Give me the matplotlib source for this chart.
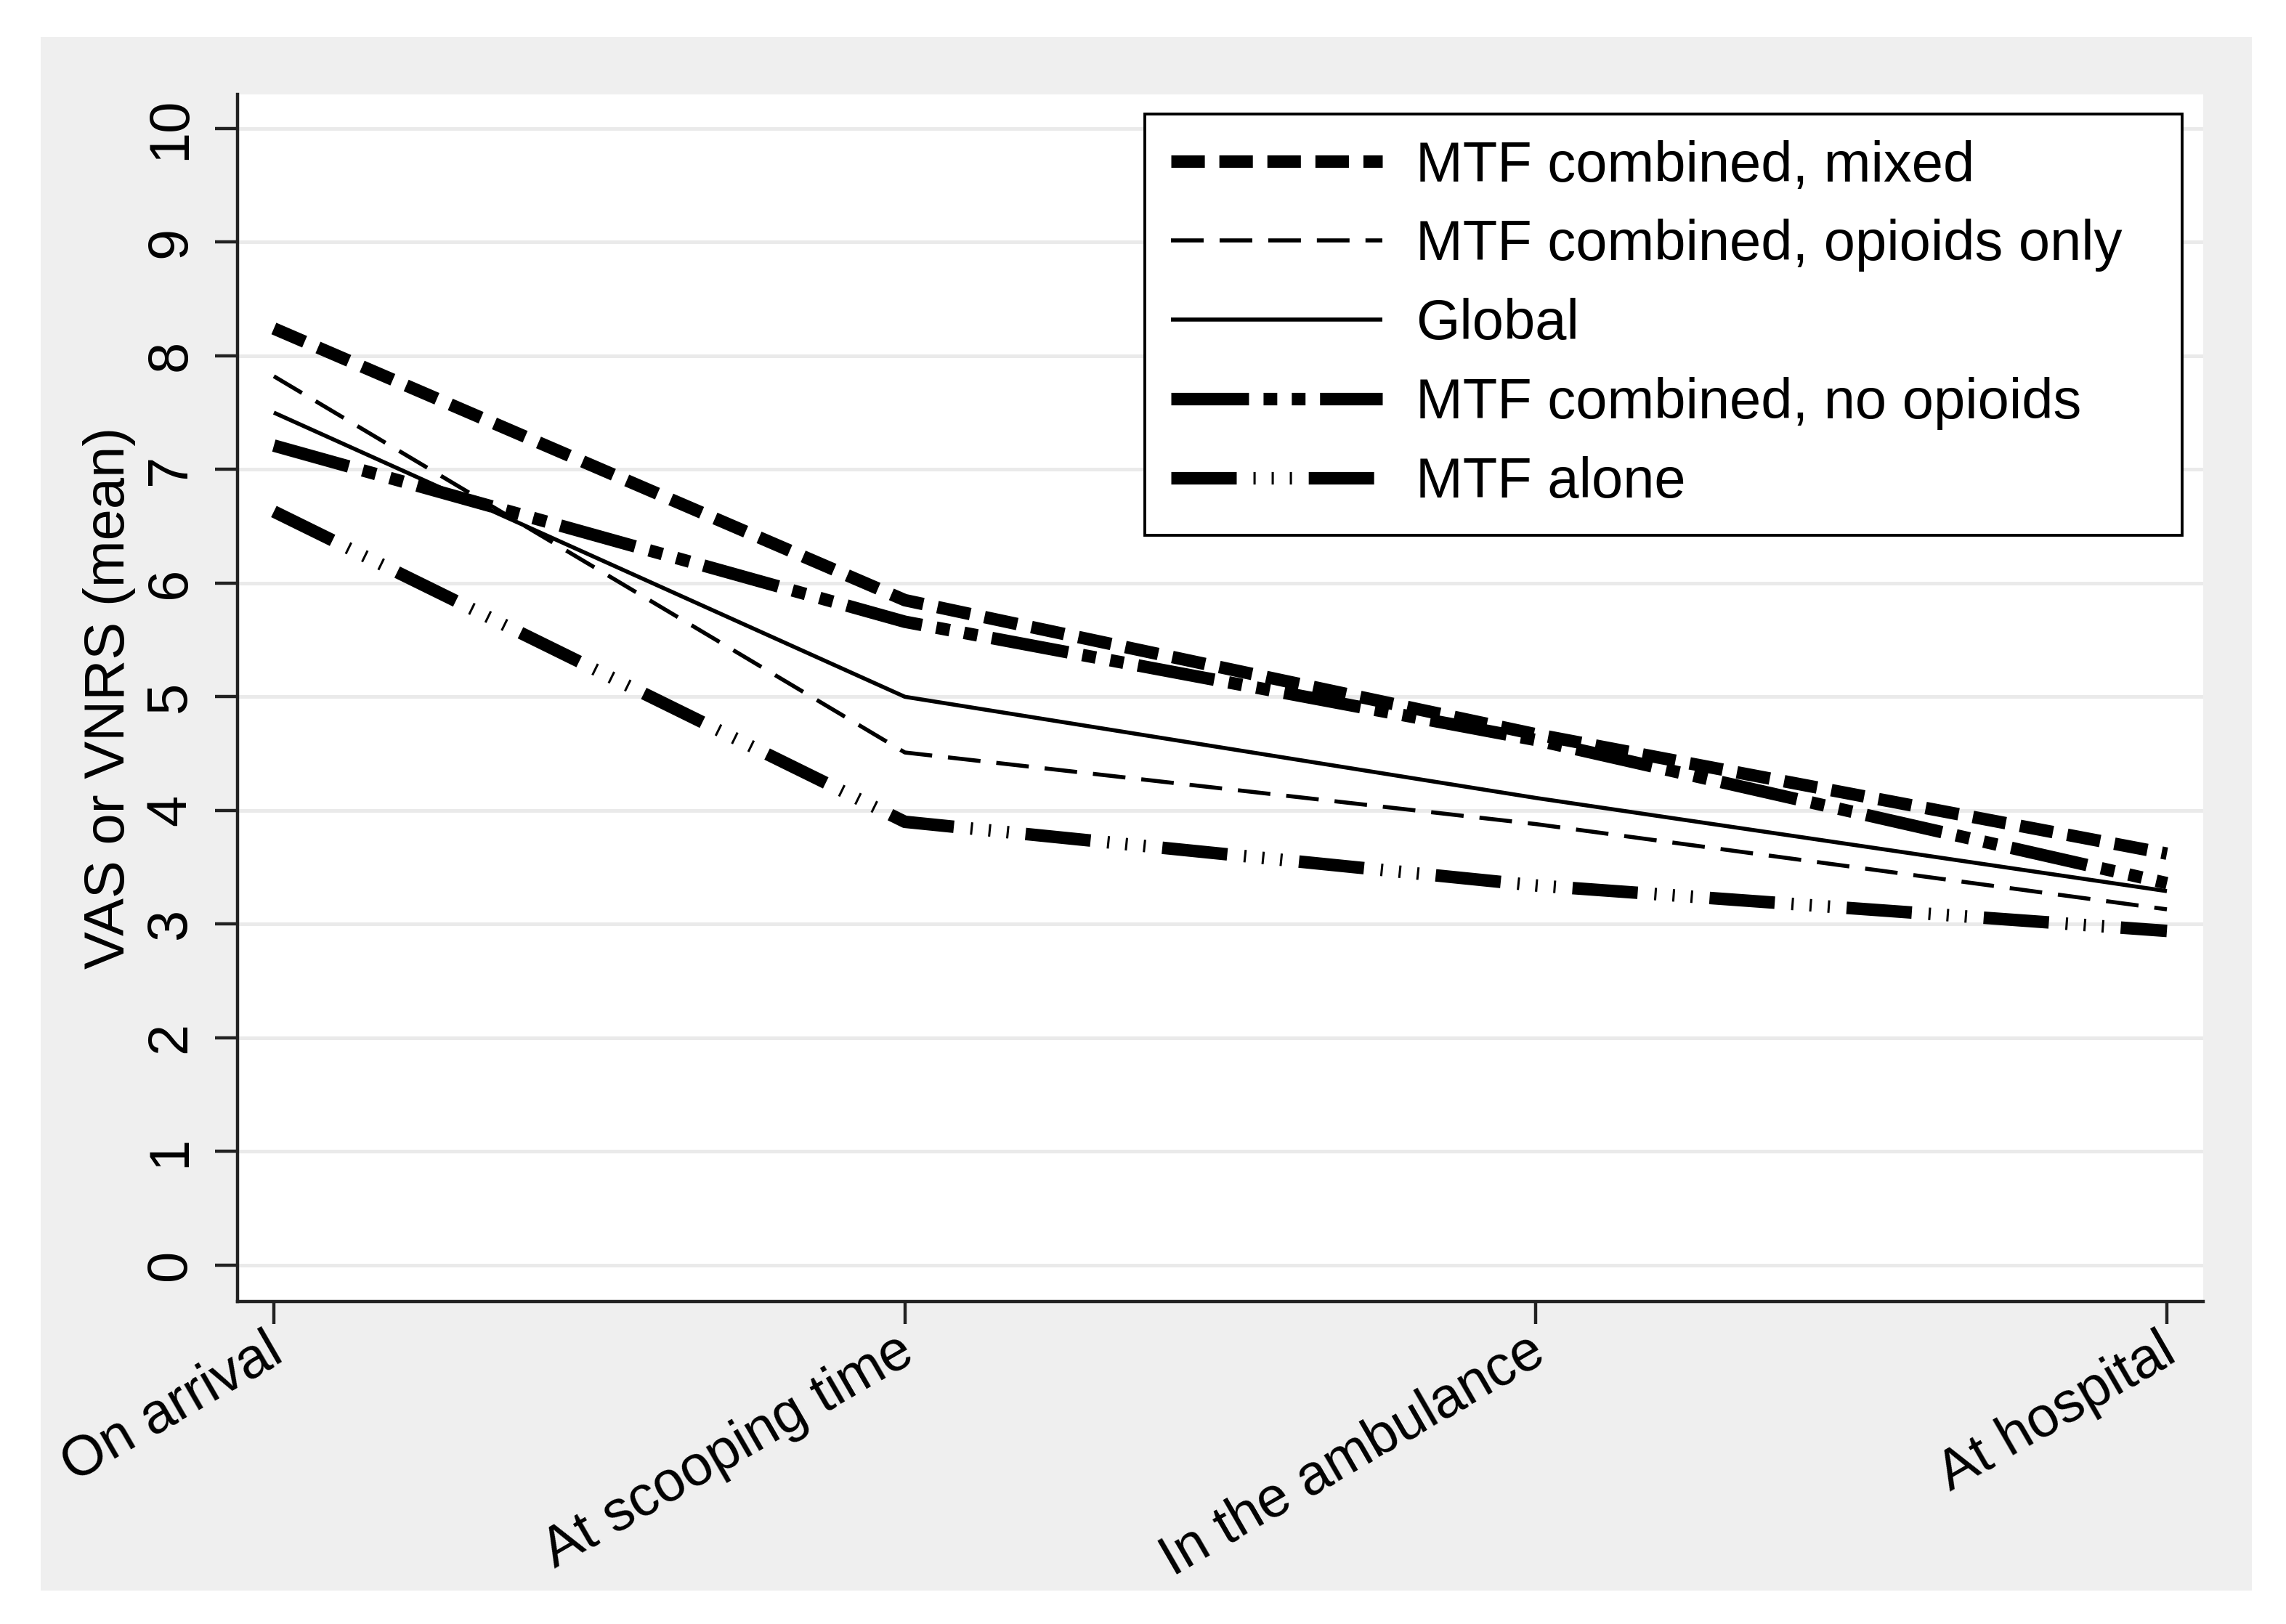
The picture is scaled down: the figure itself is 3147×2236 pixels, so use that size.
import matplotlib
matplotlib.use("Agg")
import matplotlib.pyplot as plt
from matplotlib.patches import Rectangle
from matplotlib.transforms import ScaledTranslation

plt.rcParams['font.family'] = ['Liberation Sans', 'DejaVu Sans']
plt.rcParams['lines.scale_dashes'] = False

# data
timepoints = ['On arrival', 'At scooping time', 'In the ambulance', 'At hospital']
mtf_mixed = [8.24, 5.85, 4.67, 3.62]
mtf_opioids = [7.82, 4.51, 3.88, 3.13]
global_mean = [7.50, 5.00, 4.11, 3.29]
mtf_no_opioids = [7.21, 5.66, 4.62, 3.36]
mtf_alone = [6.63, 3.90, 3.34, 2.94]
series_labels = ['MTF combined, mixed', 'MTF combined, opioids only', 'Global',
                 'MTF combined, no opioids', 'MTF alone']

fig = plt.figure(figsize=(15.735, 11.18), dpi=200, facecolor='white')
# grey Stata-like graph region, drawn behind the axes
fig.patches.append(Rectangle((0.0178, 0.0206), 0.9673, 0.9566, transform=fig.transFigure,
                             facecolor='#efefef', edgecolor='none', zorder=-10))

ax = fig.add_axes([0.1039, 0.1986, 0.8599, 0.7433])
ax.set_facecolor('white')

x = list(range(len(timepoints)))
thick = 6.2
thin = 2.0
ax.plot(x, mtf_mixed, color='black', lw=thick, ls=(0, (16.6, 7.2)),
        label=series_labels[0])
ax.plot(x, mtf_opioids, color='black', lw=thin, ls=(0, (16.2, 7.9)),
        label=series_labels[1])
ax.plot(x, global_mean, color='black', lw=thin, ls='-', solid_capstyle='butt',
        label=series_labels[2])
ax.plot(x, mtf_no_opioids, color='black', lw=thick,
        ls=(0, (38.5, 7.2, 6.8, 7.2, 6.8, 7.2)), label=series_labels[3])
ax.plot(x, mtf_alone, color='black', lw=thick,
        ls=(0, (32.4, 8.3, 1.1, 7.9, 1.1, 7.9, 1.1, 8.3)), label=series_labels[4])

ax.set_xlim(-0.0576, 3.0576)
ax.set_ylim(-0.32, 10.3)
ax.set_yticks(range(0, 11))
ax.set_xticks(x)
ax.set_xticklabels(timepoints, rotation=30, ha='right', va='top',
                   rotation_mode='anchor', fontsize=28)
ax.tick_params(axis='x', length=11, width=1.6, color='#222222', pad=1)
ax.tick_params(axis='y', length=11, width=1.6, color='#222222', pad=9,
               labelsize=28, labelrotation=90)
for lab in ax.get_yticklabels():
    lab.set_va('center')
# nudge rotated labels so their ends sit under the ticks
shift = ScaledTranslation(-0.06, 0.01, fig.dpi_scale_trans)
for lab in ax.get_xticklabels():
    lab.set_transform(lab.get_transform() + shift)

ax.grid(axis='y', color='#eaeaea', lw=1.8)
ax.grid(axis='x', visible=False)
ax.set_axisbelow(True)
for side in ['top', 'right']:
    ax.spines[side].set_visible(False)
for side in ['left', 'bottom']:
    ax.spines[side].set_color('#222222')
    ax.spines[side].set_linewidth(1.6)

fig.text(0.0477, 0.5702, 'VAS or VNRS (mean)', rotation=90, ha='center',
         va='center', fontsize=28)

leg = ax.legend(loc='upper left', bbox_to_anchor=(0.4616, 0.6348, 0.5277, 0.349),
                mode='expand', borderaxespad=0, fontsize=28, handlelength=3.74,
                handletextpad=0.59, labelspacing=0.46, borderpad=0.46,
                fancybox=False, framealpha=1, edgecolor='black')
leg.get_frame().set_linewidth(1.4)

fig.savefig('out.png', dpi=200, facecolor='white')
